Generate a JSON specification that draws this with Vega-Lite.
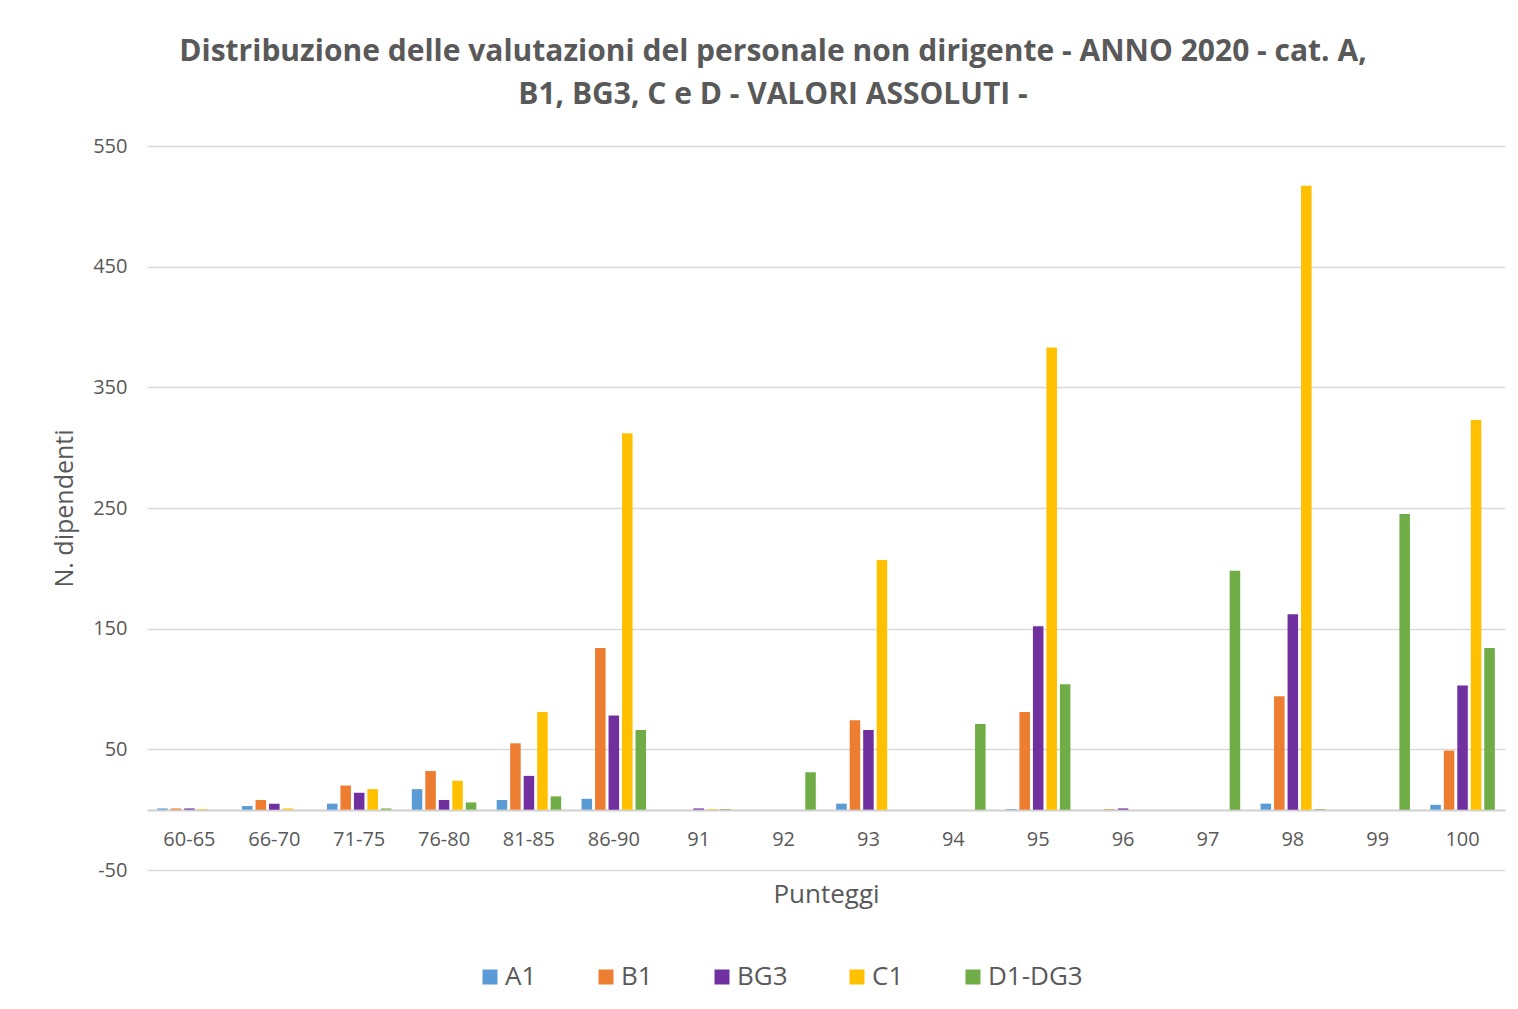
{
  "$schema": "https://vega.github.io/schema/vega-lite/v6.json",
  "width": 1358,
  "height": 724,
  "autosize": {"type": "none"},
  "padding": {"left": 147, "top": 146, "right": 13, "bottom": 139},
  "background": "white",
  "title": {
    "text": ["Distribuzione delle valutazioni del personale non dirigente - ANNO 2020 - cat. A,", "B1, BG3, C e D - VALORI ASSOLUTI -"],
    "font": "Open Sans",
    "fontSize": 30,
    "fontWeight": "bold",
    "color": "#595959",
    "lineHeight": 43,
    "anchor": "middle",
    "frame": "group",
    "dx": -53,
    "offset": 26
  },
  "config": {
    "view": {"stroke": null},
    "font": "Open Sans"
  },
  "data": {
    "values": [
      {"p": "60-65", "s": "A1", "v": 1}, {"p": "60-65", "s": "B1", "v": 1}, {"p": "60-65", "s": "BG3", "v": 1}, {"p": "60-65", "s": "C1", "v": 0.5}, {"p": "60-65", "s": "D1-DG3", "v": 0},
      {"p": "66-70", "s": "A1", "v": 3}, {"p": "66-70", "s": "B1", "v": 8}, {"p": "66-70", "s": "BG3", "v": 5}, {"p": "66-70", "s": "C1", "v": 1}, {"p": "66-70", "s": "D1-DG3", "v": 0},
      {"p": "71-75", "s": "A1", "v": 5}, {"p": "71-75", "s": "B1", "v": 20}, {"p": "71-75", "s": "BG3", "v": 14}, {"p": "71-75", "s": "C1", "v": 17}, {"p": "71-75", "s": "D1-DG3", "v": 1},
      {"p": "76-80", "s": "A1", "v": 17}, {"p": "76-80", "s": "B1", "v": 32}, {"p": "76-80", "s": "BG3", "v": 8}, {"p": "76-80", "s": "C1", "v": 24}, {"p": "76-80", "s": "D1-DG3", "v": 6},
      {"p": "81-85", "s": "A1", "v": 8}, {"p": "81-85", "s": "B1", "v": 55}, {"p": "81-85", "s": "BG3", "v": 28}, {"p": "81-85", "s": "C1", "v": 81}, {"p": "81-85", "s": "D1-DG3", "v": 11},
      {"p": "86-90", "s": "A1", "v": 9}, {"p": "86-90", "s": "B1", "v": 134}, {"p": "86-90", "s": "BG3", "v": 78}, {"p": "86-90", "s": "C1", "v": 312}, {"p": "86-90", "s": "D1-DG3", "v": 66},
      {"p": "91", "s": "A1", "v": 0}, {"p": "91", "s": "B1", "v": 0}, {"p": "91", "s": "BG3", "v": 1}, {"p": "91", "s": "C1", "v": 0.5}, {"p": "91", "s": "D1-DG3", "v": 0.5},
      {"p": "92", "s": "A1", "v": 0}, {"p": "92", "s": "B1", "v": 0}, {"p": "92", "s": "BG3", "v": 0}, {"p": "92", "s": "C1", "v": 0}, {"p": "92", "s": "D1-DG3", "v": 31},
      {"p": "93", "s": "A1", "v": 5}, {"p": "93", "s": "B1", "v": 74}, {"p": "93", "s": "BG3", "v": 66}, {"p": "93", "s": "C1", "v": 207}, {"p": "93", "s": "D1-DG3", "v": 0},
      {"p": "94", "s": "A1", "v": 0}, {"p": "94", "s": "B1", "v": 0}, {"p": "94", "s": "BG3", "v": 0}, {"p": "94", "s": "C1", "v": 0}, {"p": "94", "s": "D1-DG3", "v": 71},
      {"p": "95", "s": "A1", "v": 0.5}, {"p": "95", "s": "B1", "v": 81}, {"p": "95", "s": "BG3", "v": 152}, {"p": "95", "s": "C1", "v": 383}, {"p": "95", "s": "D1-DG3", "v": 104},
      {"p": "96", "s": "A1", "v": 0}, {"p": "96", "s": "B1", "v": 0.5}, {"p": "96", "s": "BG3", "v": 1}, {"p": "96", "s": "C1", "v": 0}, {"p": "96", "s": "D1-DG3", "v": 0},
      {"p": "97", "s": "A1", "v": 0}, {"p": "97", "s": "B1", "v": 0}, {"p": "97", "s": "BG3", "v": 0}, {"p": "97", "s": "C1", "v": 0}, {"p": "97", "s": "D1-DG3", "v": 198},
      {"p": "98", "s": "A1", "v": 5}, {"p": "98", "s": "B1", "v": 94}, {"p": "98", "s": "BG3", "v": 162}, {"p": "98", "s": "C1", "v": 517}, {"p": "98", "s": "D1-DG3", "v": 0.5},
      {"p": "99", "s": "A1", "v": 0}, {"p": "99", "s": "B1", "v": 0}, {"p": "99", "s": "BG3", "v": 0}, {"p": "99", "s": "C1", "v": 0}, {"p": "99", "s": "D1-DG3", "v": 245},
      {"p": "100", "s": "A1", "v": 4}, {"p": "100", "s": "B1", "v": 49}, {"p": "100", "s": "BG3", "v": 103}, {"p": "100", "s": "C1", "v": 323}, {"p": "100", "s": "D1-DG3", "v": 134}
    ]
  },
  "mark": {"type": "bar"},
  "encoding": {
    "x": {
      "field": "p",
      "type": "nominal",
      "sort": null,
      "scale": {"paddingInner": 0.24, "paddingOuter": 0.12},
      "axis": {
        "title": "Punteggi",
        "labelAngle": 0,
        "labelFontSize": 20,
        "labelColor": "#595959",
        "labelPadding": 19,
        "ticks": false,
        "domainColor": "#d0d0d0",
        "domainWidth": 2,
        "offset": -60,
        "titleFontSize": 26,
        "titleFontWeight": "normal",
        "titleColor": "#595959",
        "titlePadding": 32
      }
    },
    "xOffset": {
      "field": "s",
      "type": "nominal",
      "scale": {"domain": ["A1", "B1", "BG3", "C1", "D1-DG3"], "paddingInner": 0.22}
    },
    "y": {
      "field": "v",
      "type": "quantitative",
      "scale": {"domain": [-50, 550], "nice": false},
      "axis": {
        "title": "N. dipendenti",
        "values": [-50, 50, 150, 250, 350, 450, 550],
        "labelExpr": "toString(datum.value)",
        "labelFontSize": 20,
        "labelColor": "#595959",
        "labelPadding": 20,
        "ticks": false,
        "domain": false,
        "gridColor": "#d9d9d9",
        "gridWidth": 1.5,
        "titleFontSize": 25,
        "titleFontWeight": "normal",
        "titleColor": "#595959",
        "titlePadding": 15
      }
    },
    "color": {
      "field": "s",
      "type": "nominal",
      "scale": {"domain": ["A1", "B1", "BG3", "C1", "D1-DG3"], "range": ["#5b9bd5", "#ed7d31", "#7030a0", "#ffc000", "#70ad47"]},
      "legend": {
        "title": null,
        "orient": "none",
        "direction": "horizontal",
        "legendX": 330,
        "legendY": 818,
        "symbolType": "square",
        "symbolSize": 225,
        "symbolStrokeWidth": 0,
        "labelFontSize": 26,
        "labelColor": "#595959",
        "labelOffset": 2,
        "columnPadding": 56
      }
    }
  }
}
